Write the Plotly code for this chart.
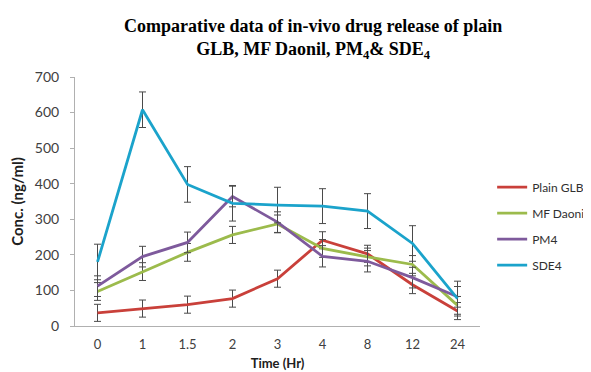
import plotly.graph_objects as go

times = ["0", "1", "1.5", "2", "3", "4", "8", "12", "24"]
series_names = ["Plain GLB", "MF Daonil", "PM4", "SDE4"]
plain_glb = [37, 49, 60, 77, 133, 241, 203, 116, 42]
mf_daonil = [97, 153, 207, 256, 287, 218, 194, 173, 58]
pm4 = [112, 195, 235, 364, 292, 196, 182, 136, 82]
sde4 = [180, 608, 398, 345, 340, 337, 323, 232, 77]
plain_glb_err = [24, 24, 24, 24, 24, 24, 24, 25, 24]
mf_daonil_err = [25, 25, 25, 24, 25, 25, 25, 25, 25]
pm4_err = [29, 29, 29, 29, 29, 30, 30, 29, 29]
sde4_err = [50, 50, 50, 50, 50, 49, 49, 50, 49]

colors = ["#C9403A", "#9CBB4C", "#7E5A9C", "#1BA3CB"]
values = [plain_glb, mf_daonil, pm4, sde4]
errors = [plain_glb_err, mf_daonil_err, pm4_err, sde4_err]

fig = go.Figure()
for name, vals, errs, col in zip(series_names, values, errors, colors):
    fig.add_trace(go.Scatter(
        x=times, y=vals, name=name, mode="lines",
        line=dict(color=col, width=2.8),
        legendgroup=name,
        error_y=dict(type="data", array=errs, visible=True,
                     color="#4a4a4a", thickness=1, width=3.5),
    ))

# page has an 8px default body margin, so the figure is 583x364
fig.update_layout(
    width=583, height=364,
    margin=dict(l=67, r=111, t=69, b=46, autoexpand=False),
    paper_bgcolor="white", plot_bgcolor="white",
    font=dict(family="Lato, Open Sans, Arial, sans-serif", size=13, color="#404040"),
    title=dict(
        text="<b>Comparative data of in-vivo drug release of plain<br>GLB, MF Daonil, PM<sub>4</sub>& SDE<sub>4</sub></b>",
        font=dict(family="Liberation Serif, Times New Roman, serif", size=18, color="black"),
        x=0.588, xanchor="center", xref="paper",
        y=0.935, yanchor="middle", yref="container",
    ),
    showlegend=True,
    legend=dict(
        x=1.03, xanchor="left", y=0.616, yanchor="top",
        traceorder="grouped", tracegroupgap=7,
        font=dict(size=12, color="#303030"),
        bgcolor="rgba(0,0,0,0)",
    ),
    xaxis=dict(
        type="category", showgrid=False, showline=True, linecolor="#b0b0b0",
        linewidth=1, ticks="", tickfont=dict(size=13, color="#404040"),
        ticklabelstandoff=6,
        title=dict(text="<b>Time (Hr)</b>", font=dict(size=13, color="#202020"), standoff=8),
        range=[-0.5, 8.5], automargin=False,
    ),
    yaxis=dict(
        range=[0, 700], dtick=100, showgrid=False, showline=True,
        linecolor="#b0b0b0", linewidth=1, ticks="outside", ticklen=4,
        tickcolor="#b0b0b0", zeroline=False, automargin=False,
        ticklabelstandoff=8,
        tickfont=dict(size=14, color="#404040"),
        title=dict(text="<b>Conc. (ng/ml)</b>", font=dict(size=15, color="#202020"), standoff=14),
    ),
)

fig.write_html("out.html")
